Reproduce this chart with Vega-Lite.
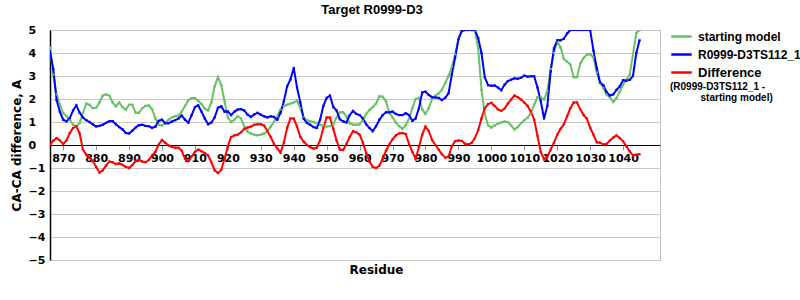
{
  "$schema": "https://vega.github.io/schema/vega-lite/v6.json",
  "width": 610,
  "height": 230,
  "autosize": {"type": "none"},
  "padding": {"left": 50, "top": 30, "right": 140, "bottom": 40},
  "background": "white",
  "title": {"text": "Target R0999-D3", "font": "Liberation Sans", "fontSize": 13, "fontWeight": "bold", "color": "black", "frame": "group", "anchor": "middle", "dx": 17, "offset": 7},
  "config": {"font": "DejaVu Sans", "view": {"stroke": "#c0c0c0", "strokeWidth": 1}},
  "data": {"values": [
    {"r":866,"start":4.25,"model":4.07,"diff":0},
    {"r":867,"start":3.06,"model":3.3,"diff":0.19},
    {"r":868,"start":2.2,"model":1.95,"diff":0.3},
    {"r":869,"start":1.75,"model":1.45,"diff":0.2},
    {"r":870,"start":1.39,"model":1.1,"diff":0.04},
    {"r":871,"start":1.25,"model":1.03,"diff":0.2},
    {"r":872,"start":1.1,"model":1.17,"diff":0.52},
    {"r":873,"start":0.88,"model":1.5,"diff":0.74},
    {"r":874,"start":0.81,"model":1.72,"diff":0.81},
    {"r":875,"start":0.95,"model":1.4,"diff":0.5},
    {"r":876,"start":1.39,"model":1.2,"diff":-0.2},
    {"r":877,"start":1.8,"model":1.08,"diff":-0.42},
    {"r":878,"start":1.75,"model":1.0,"diff":-0.55},
    {"r":879,"start":1.6,"model":0.9,"diff":-0.71},
    {"r":880,"start":1.62,"model":0.81,"diff":-0.95},
    {"r":881,"start":1.85,"model":0.83,"diff":-1.2},
    {"r":882,"start":2.15,"model":0.88,"diff":-1.1},
    {"r":883,"start":2.2,"model":0.96,"diff":-0.9},
    {"r":884,"start":2.15,"model":1.03,"diff":-0.72},
    {"r":885,"start":1.85,"model":1.04,"diff":-0.75},
    {"r":886,"start":1.68,"model":0.9,"diff":-0.83},
    {"r":887,"start":1.85,"model":0.78,"diff":-0.8},
    {"r":888,"start":1.65,"model":0.68,"diff":-0.86},
    {"r":889,"start":1.53,"model":0.52,"diff":-0.95},
    {"r":890,"start":1.75,"model":0.5,"diff":-1.0},
    {"r":891,"start":1.75,"model":0.62,"diff":-0.87},
    {"r":892,"start":1.4,"model":0.76,"diff":-0.7},
    {"r":893,"start":1.4,"model":0.86,"diff":-0.64},
    {"r":894,"start":1.6,"model":0.88,"diff":-0.72},
    {"r":895,"start":1.7,"model":0.83,"diff":-0.75},
    {"r":896,"start":1.72,"model":0.82,"diff":-0.65},
    {"r":897,"start":1.55,"model":0.74,"diff":-0.45},
    {"r":898,"start":1.15,"model":0.8,"diff":-0.3},
    {"r":899,"start":0.88,"model":1.05,"diff":0.02},
    {"r":900,"start":0.85,"model":1.1,"diff":0.22},
    {"r":901,"start":0.96,"model":0.95,"diff":0.1},
    {"r":902,"start":1.1,"model":0.95,"diff":-0.02},
    {"r":903,"start":1.2,"model":1.02,"diff":-0.08},
    {"r":904,"start":1.25,"model":1.08,"diff":-0.12},
    {"r":905,"start":1.28,"model":1.15,"diff":-0.12},
    {"r":906,"start":1.45,"model":1.28,"diff":-0.25},
    {"r":907,"start":1.7,"model":1.1,"diff":-0.6},
    {"r":908,"start":1.95,"model":0.97,"diff":-0.7},
    {"r":909,"start":2.04,"model":1.3,"diff":-0.5},
    {"r":910,"start":2.04,"model":1.65,"diff":-0.3},
    {"r":911,"start":1.92,"model":1.72,"diff":-0.2},
    {"r":912,"start":1.78,"model":1.45,"diff":-0.27},
    {"r":913,"start":1.58,"model":1.15,"diff":-0.35},
    {"r":914,"start":1.5,"model":0.9,"diff":-0.45},
    {"r":915,"start":1.85,"model":0.98,"diff":-0.75},
    {"r":916,"start":2.55,"model":1.2,"diff":-1.1},
    {"r":917,"start":2.95,"model":1.62,"diff":-1.22},
    {"r":918,"start":2.6,"model":1.68,"diff":-1.08},
    {"r":919,"start":1.9,"model":1.45,"diff":-0.6},
    {"r":920,"start":1.2,"model":1.46,"diff":-0.05},
    {"r":921,"start":1.0,"model":1.3,"diff":0.35},
    {"r":922,"start":1.1,"model":1.45,"diff":0.42},
    {"r":923,"start":1.25,"model":1.54,"diff":0.45},
    {"r":924,"start":1.15,"model":1.56,"diff":0.55},
    {"r":925,"start":0.8,"model":1.5,"diff":0.7},
    {"r":926,"start":0.58,"model":1.32,"diff":0.76},
    {"r":927,"start":0.5,"model":1.22,"diff":0.8},
    {"r":928,"start":0.45,"model":1.33,"diff":0.88},
    {"r":929,"start":0.42,"model":1.4,"diff":0.9},
    {"r":930,"start":0.45,"model":1.32,"diff":0.9},
    {"r":931,"start":0.5,"model":1.25,"diff":0.85},
    {"r":932,"start":0.6,"model":1.2,"diff":0.6},
    {"r":933,"start":0.8,"model":1.25,"diff":0.35},
    {"r":934,"start":1.0,"model":1.22,"diff":0.05},
    {"r":935,"start":1.25,"model":1.1,"diff":-0.15},
    {"r":936,"start":1.55,"model":1.4,"diff":-0.33},
    {"r":937,"start":1.7,"model":1.9,"diff":0.1},
    {"r":938,"start":1.75,"model":2.55,"diff":0.75},
    {"r":939,"start":1.8,"model":2.85,"diff":1.15},
    {"r":940,"start":1.85,"model":3.35,"diff":1.15},
    {"r":941,"start":1.93,"model":2.5,"diff":0.8},
    {"r":942,"start":1.6,"model":1.85,"diff":0.35},
    {"r":943,"start":1.2,"model":1.15,"diff":0.15},
    {"r":944,"start":1.08,"model":0.96,"diff":0.0},
    {"r":945,"start":1.03,"model":0.88,"diff":-0.1},
    {"r":946,"start":1.0,"model":0.78,"diff":-0.15},
    {"r":947,"start":0.95,"model":0.74,"diff":-0.12},
    {"r":948,"start":0.88,"model":1.1,"diff":0.2},
    {"r":949,"start":0.83,"model":1.7,"diff":0.75},
    {"r":950,"start":0.8,"model":2.05,"diff":1.2},
    {"r":951,"start":0.82,"model":2.15,"diff":1.2},
    {"r":952,"start":0.9,"model":1.65,"diff":0.7},
    {"r":953,"start":1.2,"model":1.5,"diff":0.2},
    {"r":954,"start":1.42,"model":1.12,"diff":-0.2},
    {"r":955,"start":1.42,"model":1.03,"diff":-0.22},
    {"r":956,"start":1.25,"model":0.98,"diff":0.05},
    {"r":957,"start":0.95,"model":1.3,"diff":0.35},
    {"r":958,"start":0.88,"model":1.48,"diff":0.6},
    {"r":959,"start":0.88,"model":1.35,"diff":0.55},
    {"r":960,"start":0.9,"model":1.3,"diff":0.45},
    {"r":961,"start":1.1,"model":1.15,"diff":0.1},
    {"r":962,"start":1.35,"model":0.9,"diff":-0.35},
    {"r":963,"start":1.52,"model":0.74,"diff":-0.72},
    {"r":964,"start":1.65,"model":0.6,"diff":-0.95},
    {"r":965,"start":1.8,"model":0.82,"diff":-1.0},
    {"r":966,"start":2.12,"model":1.1,"diff":-0.9},
    {"r":967,"start":2.1,"model":1.3,"diff":-0.6},
    {"r":968,"start":1.9,"model":1.42,"diff":-0.25},
    {"r":969,"start":1.4,"model":1.42,"diff":0.02},
    {"r":970,"start":1.2,"model":1.45,"diff":0.25},
    {"r":971,"start":0.98,"model":1.35,"diff":0.42},
    {"r":972,"start":0.82,"model":1.3,"diff":0.5},
    {"r":973,"start":0.7,"model":1.3,"diff":0.52},
    {"r":974,"start":0.85,"model":1.38,"diff":0.48},
    {"r":975,"start":1.15,"model":1.3,"diff":0.05},
    {"r":976,"start":1.6,"model":1.05,"diff":-0.3},
    {"r":977,"start":2.0,"model":1.15,"diff":-0.6},
    {"r":978,"start":2.05,"model":1.6,"diff":-0.1},
    {"r":979,"start":1.55,"model":2.28,"diff":0.45},
    {"r":980,"start":1.35,"model":2.32,"diff":0.8},
    {"r":981,"start":1.6,"model":2.18,"diff":0.6},
    {"r":982,"start":2.0,"model":2.08,"diff":0.22},
    {"r":983,"start":2.15,"model":2.07,"diff":0.0},
    {"r":984,"start":2.24,"model":2.05,"diff":-0.2},
    {"r":985,"start":2.4,"model":1.95,"diff":-0.4},
    {"r":986,"start":2.7,"model":2.05,"diff":-0.55},
    {"r":987,"start":3.0,"model":2.25,"diff":-0.5},
    {"r":988,"start":3.4,"model":3.06,"diff":-0.05},
    {"r":989,"start":3.95,"model":3.8,"diff":0.17},
    {"r":990,"start":4.6,"model":4.6,"diff":0.2},
    {"r":991,"start":4.97,"model":4.95,"diff":0.18},
    {"r":992,"start":5,"model":5,"diff":0.05},
    {"r":993,"start":5,"model":5,"diff":0.02},
    {"r":994,"start":5,"model":5,"diff":0.09},
    {"r":995,"start":4.97,"model":5,"diff":0.3},
    {"r":996,"start":4.2,"model":4.65,"diff":0.65},
    {"r":997,"start":2.4,"model":4.0,"diff":1.15},
    {"r":998,"start":1.35,"model":2.95,"diff":1.6},
    {"r":999,"start":0.85,"model":2.6,"diff":1.78},
    {"r":1000,"start":0.76,"model":2.58,"diff":1.83},
    {"r":1001,"start":0.85,"model":2.59,"diff":1.7},
    {"r":1002,"start":0.93,"model":2.5,"diff":1.55},
    {"r":1003,"start":0.98,"model":2.38,"diff":1.48},
    {"r":1004,"start":1.02,"model":2.62,"diff":1.58},
    {"r":1005,"start":1.0,"model":2.78,"diff":1.8},
    {"r":1006,"start":0.85,"model":2.84,"diff":1.98},
    {"r":1007,"start":0.68,"model":2.9,"diff":2.15},
    {"r":1008,"start":0.78,"model":2.88,"diff":2.08},
    {"r":1009,"start":0.95,"model":2.92,"diff":1.98},
    {"r":1010,"start":1.08,"model":3.02,"diff":1.85},
    {"r":1011,"start":1.18,"model":2.97,"diff":1.7},
    {"r":1012,"start":1.4,"model":2.99,"diff":1.45},
    {"r":1013,"start":1.75,"model":2.99,"diff":1.1},
    {"r":1014,"start":2.08,"model":2.5,"diff":0.4},
    {"r":1015,"start":2.08,"model":1.9,"diff":-0.3},
    {"r":1016,"start":1.97,"model":1.15,"diff":-0.62},
    {"r":1017,"start":2.35,"model":1.7,"diff":-0.5},
    {"r":1018,"start":3.3,"model":3.2,"diff":-0.2},
    {"r":1019,"start":4.0,"model":4.2,"diff":0.1},
    {"r":1020,"start":4.5,"model":4.55,"diff":0.45},
    {"r":1021,"start":4.25,"model":4.55,"diff":0.7},
    {"r":1022,"start":3.75,"model":4.62,"diff":0.9},
    {"r":1023,"start":3.62,"model":4.85,"diff":1.25},
    {"r":1024,"start":3.5,"model":5,"diff":1.6},
    {"r":1025,"start":2.95,"model":5,"diff":1.85},
    {"r":1026,"start":2.95,"model":5,"diff":1.85},
    {"r":1027,"start":3.55,"model":5,"diff":1.55},
    {"r":1028,"start":3.78,"model":5,"diff":1.3},
    {"r":1029,"start":3.93,"model":5,"diff":1.15},
    {"r":1030,"start":3.95,"model":5,"diff":0.75},
    {"r":1031,"start":3.8,"model":4.1,"diff":0.45},
    {"r":1032,"start":3.15,"model":3.35,"diff":0.12},
    {"r":1033,"start":2.7,"model":2.72,"diff":0.1},
    {"r":1034,"start":2.48,"model":2.6,"diff":0.02},
    {"r":1035,"start":2.19,"model":2.3,"diff":0.05},
    {"r":1036,"start":2.07,"model":2.15,"diff":0.2},
    {"r":1037,"start":1.87,"model":2.2,"diff":0.32},
    {"r":1038,"start":2.04,"model":2.4,"diff":0.42},
    {"r":1039,"start":2.33,"model":2.55,"diff":0.3},
    {"r":1040,"start":2.62,"model":2.82,"diff":0.16},
    {"r":1041,"start":2.84,"model":2.8,"diff":-0.05},
    {"r":1042,"start":3.06,"model":2.83,"diff":-0.28},
    {"r":1043,"start":3.95,"model":3.0,"diff":-0.45},
    {"r":1044,"start":4.87,"model":4.0,"diff":-0.42},
    {"r":1045,"start":5.0,"model":4.55,"diff":-0.4}
  ]},
  "transform": [{"fold": ["start", "model", "diff"], "as": ["series", "value"]}],
  "mark": {"type": "line", "strokeWidth": 2, "clip": true, "point": {"shape": "square", "size": 5, "filled": true}},
  "encoding": {
    "x": {
      "field": "r", "type": "quantitative",
      "scale": {"domain": [866, 1051.2], "nice": false, "zero": false},
      "axis": {
        "title": "Residue",
        "values": [870, 880, 890, 900, 910, 920, 930, 940, 950, 960, 970, 980, 990, 1000, 1010, 1020, 1030, 1040],
        "format": "d",
        "grid": false,
        "offset": -115,
        "domainColor": "black", "domainWidth": 1.2,
        "tickSize": 5, "tickColor": "#909090",
        "labelFont": "DejaVu Sans", "labelFontSize": 11, "labelFontWeight": "bold", "labelColor": "black",
        "labelOverlap": false, "labelBound": false, "labelFlush": false, "labelPadding": 2,
        "titleFont": "DejaVu Sans", "titleFontSize": 12, "titleFontWeight": "bold", "titleColor": "black",
        "titleX": 326, "titleY": 119, "titleBaseline": "top", "titleAlign": "center"
      }
    },
    "y": {
      "field": "value", "type": "quantitative",
      "scale": {"domain": [-5, 5], "nice": false},
      "axis": {
        "title": "CA-CA difference, A",
        "values": [-5, -4, -3, -2, -1, 0, 1, 2, 3, 4, 5],
        "grid": true, "gridColor": "#c8c8c8", "gridWidth": 1,
        "tickSize": 0,
        "domainColor": "black", "domainWidth": 1.5,
        "labelAlign": "left", "labelPadding": 22,
        "labelFont": "DejaVu Sans", "labelFontSize": 11, "labelFontWeight": "bold", "labelColor": "black",
        "titleFont": "DejaVu Sans", "titleFontSize": 12, "titleFontWeight": "bold", "titleColor": "black",
        "titleX": -27, "titleY": 115, "titleBaseline": "bottom", "titleAlign": "center"
      }
    },
    "color": {
      "field": "series", "type": "nominal",
      "scale": {"domain": ["start", "model", "diff"], "range": ["#66c266", "#0000ff", "#ff0000"]},
      "legend": {
        "title": ["(R0999-D3TS112_1 -", "\u200b\u00a0\u00a0\u00a0\u00a0\u00a0\u00a0\u00a0\u00a0\u00a0\u00a0\u00a0starting model)"],
        "orient": "none", "legendX": 620, "legendY": -5,
        "padding": 0, "rowPadding": 0,
        "titleOrient": "bottom", "titleAnchor": "start", "titleAlign": "left", "titlePadding": 2,
        "titleFont": "Liberation Sans", "titleFontSize": 10, "titleFontWeight": "bold", "titleColor": "black", "titleLineHeight": 11, "titleLimit": 300,
        "symbolType": "stroke", "symbolSize": 420, "symbolStrokeWidth": 2.5,
        "labelFont": "Liberation Sans", "labelFontSize": 12, "labelFontWeight": "bold", "labelColor": "black", "labelOffset": 5, "labelLimit": 200,
        "labelExpr": "datum.value == 'start' ? 'starting model' : datum.value == 'model' ? 'R0999-D3TS112_1' : 'Difference'",
        "encode": {"labels": {"update": {"fontSize": {"signal": "datum.value == 'diff' ? 13 : 12"}}}}
      }
    }
  }
}
